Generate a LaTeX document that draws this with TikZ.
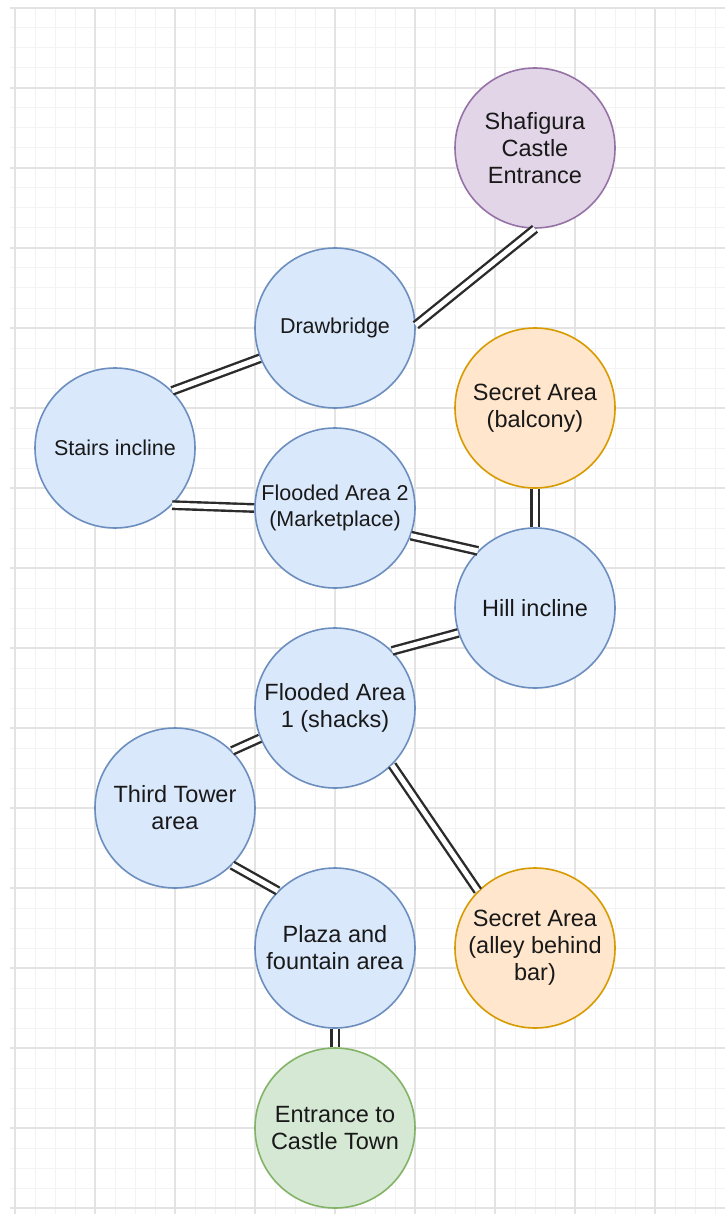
\documentclass[tikz,border=0pt]{standalone}
\usepackage{fontspec}
\setmainfont{Liberation Sans}
\definecolor{bluefill}{HTML}{DAE8FC}
\definecolor{bluedraw}{HTML}{6C8EBF}
\definecolor{purplefill}{HTML}{E1D5E7}
\definecolor{purpledraw}{HTML}{9673A6}
\definecolor{orangefill}{HTML}{FFE6CC}
\definecolor{orangedraw}{HTML}{D79B00}
\definecolor{greenfill}{HTML}{D5E8D4}
\definecolor{greendraw}{HTML}{82B366}
\definecolor{gridminor}{HTML}{F3F3F3}
\definecolor{gridmajor}{HTML}{E3E3E3}
\definecolor{linkcol}{HTML}{2B2B2B}
\tikzset{
  area/.style={circle, minimum size=160pt, inner sep=0pt, line width=1.6pt, align=center, text=black!90},
  big/.style={font=\fontsize{23.5}{27}\selectfont},
  small/.style={font=\fontsize{21.5}{26}\selectfont},
  bluearea/.style={area, fill=bluefill, draw=bluedraw},
  purplearea/.style={area, fill=purplefill, draw=purpledraw},
  orangearea/.style={area, fill=orangefill, draw=orangedraw},
  greenarea/.style={area, fill=greenfill, draw=greendraw},
  link/.style={draw=linkcol, line width=2.4pt, double=white, double distance=5pt}
}
\begin{document}
\begin{tikzpicture}[x=1pt, y=-1pt]
\useasboundingbox (0,0) rectangle (725,1214);
\fill[white] (0,0) rectangle (725,1214);
% grid
\foreach \x in {15,35,...,725} \draw[gridminor, line width=1pt] (\x,8) -- (\x,1214);
\foreach \y in {8,28,...,1214} \draw[gridminor, line width=1pt] (10,\y) -- (725,\y);
\foreach \x in {15,95,...,725} \draw[gridmajor, line width=1.2pt] (\x,8) -- (\x,1214);
\foreach \y in {8,88,...,1214} \draw[gridmajor, line width=1.2pt] (10,\y) -- (725,\y);
% nodes
\node[purplearea, big] (shaf) at (535,148) {Shafigura\\Castle\\Entrance};
\node[bluearea, small] (drawb) at (335,328) {Drawbridge};
\node[bluearea, small] (stairs) at (115,448) {Stairs incline};
\node[orangearea, big] (balc) at (535,408) {Secret Area\\(balcony)};
\node[bluearea, small] (fl2) at (335,508) {Flooded Area 2\\(Marketplace)};
\node[bluearea, big] (hill) at (535,608) {Hill incline};
\node[bluearea, big] (fl1) at (335,708) {Flooded Area\\1 (shacks)};
\node[bluearea, big] (third) at (175,808) {Third Tower\\area};
\node[bluearea, big] (plaza) at (335,948) {Plaza and\\fountain area};
\node[orangearea, big] (alley) at (535,948) {Secret Area\\(alley behind\\bar)};
\node[greenarea, big] (ent) at (335,1128) {Entrance to\\Castle Town};
% connectors
\draw[link] (shaf.south) -- (drawb.2);
\draw[link] (drawb.202) -- (stairs.45);
\draw[link] (stairs.-45) -- (fl2.west);
\draw[link] (fl2.-20) -- (hill.135);
\draw[link] (balc.south) -- (hill.north);
\draw[link] (hill.198) -- (fl1.45);
\draw[link] (fl1.202) -- (third.45);
\draw[link] (fl1.-45) -- (alley.135);
\draw[link] (third.-45) -- (plaza.135);
\draw[link] (plaza.south) -- (ent.north);
\end{tikzpicture}
\end{document}
